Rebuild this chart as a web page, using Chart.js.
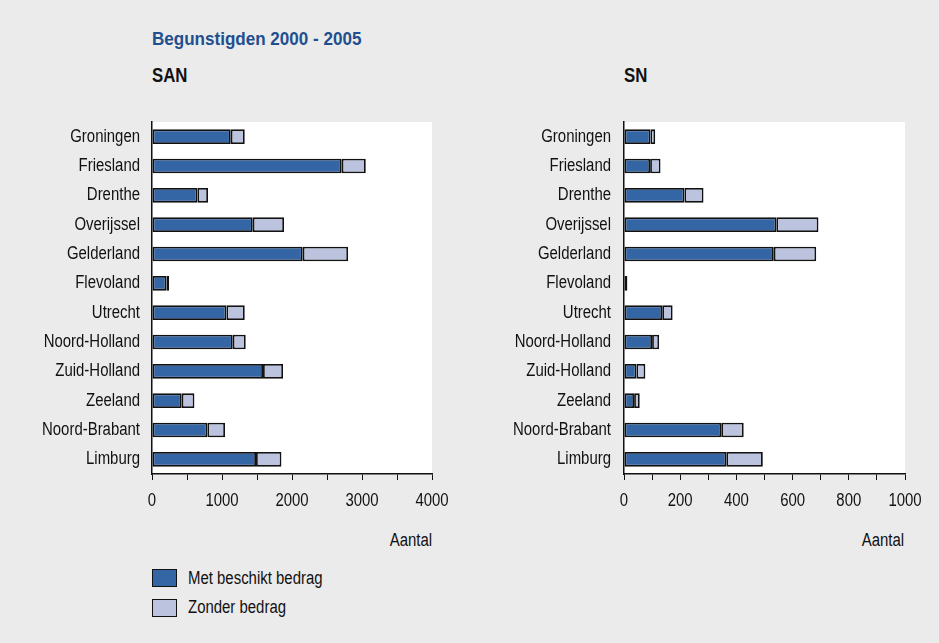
<!DOCTYPE html>
<html lang="nl">
<head>
  <meta charset="UTF-8" />
  <title>Begunstigden 2000 - 2005</title>
  <script src="https://cdn.jsdelivr.net/npm/chart.js"></script>
  <style>
    html, body {
      margin: 0;
      padding: 0;
      background: #ebebeb;
      font-family: "Liberation Sans", Arial, sans-serif;
    }
    #page {
      position: relative;
      width: 939px;
      height: 643px;
      overflow: hidden;
    }
    .txt {
      position: absolute;
      white-space: nowrap;
      line-height: 1;
      color: #111111;
      transform: scaleX(0.83);
      transform-origin: left top;
    }
    .title {
      color: #1f4f8f;
      font-weight: bold;
      font-size: 18px;
      transform: scaleX(0.947);
    }
    .panel-title {
      font-weight: bold;
      font-size: 21px;
      transform: scaleX(0.8);
    }
    .unit {
      font-size: 18px;
      transform-origin: right top;
    }
    .legend-box {
      position: absolute;
      width: 25px;
      height: 18px;
      border: 1.5px solid #111111;
      box-sizing: border-box;
    }
    .legend-label {
      font-size: 18px;
    }
    .chart-wrap {
      position: absolute;
      top: 110px;
      width: 470px;
      height: 420px;
    }
  </style>
</head>
<body>

<div id="page">
  <div class="txt title" style="left:152px; top:30px;">Begunstigden 2000 - 2005</div>
  <div class="txt panel-title" style="left:152px; top:64px;">SAN</div>
  <div class="txt panel-title" style="left:624px; top:64px;">SN</div>

  <div class="chart-wrap" style="left:0px;"><canvas id="sanChart" width="470" height="420"></canvas></div>
  <div class="chart-wrap" style="left:470px;"><canvas id="snChart" width="470" height="420"></canvas></div>

  <div class="txt unit" style="right:507px; top:531px;">Aantal</div>
  <div class="txt unit" style="right:35px; top:531px;">Aantal</div>

  <!-- legend -->
  <div class="legend-box" style="left:152px; top:569px; background:#3466a5;"></div>
  <div class="txt legend-label" style="left:188px; top:569px;">Met beschikt bedrag</div>
  <div class="legend-box" style="left:152px; top:599px; background:#bbc3df;"></div>
  <div class="txt legend-label" style="left:188px; top:598px;">Zonder bedrag</div>
</div>

<script>
  // provinces, top to bottom
  const provinces = ['Groningen', 'Friesland', 'Drenthe', 'Overijssel', 'Gelderland', 'Flevoland',
    'Utrecht', 'Noord-Holland', 'Zuid-Holland', 'Zeeland', 'Noord-Brabant', 'Limburg'];

  const seriesNames = ['Met beschikt bedrag', 'Zonder bedrag'];

  // SAN
  const sanMet = [1125, 2710, 648, 1439, 2153, 205, 1063, 1153, 1586, 424, 791, 1486];
  const sanZonder = [200, 344, 152, 447, 648, 38, 262, 186, 286, 182, 252, 363];

  // SN
  const snMet = [94, 93, 215, 542, 533, 12, 136, 100, 44, 36, 346, 364];
  const snZonder = [17, 37, 68, 150, 151, 0, 37, 25, 32, 20, 80, 130];

  const sanTicks = [0, 1000, 2000, 3000, 4000];
  const snTicks = [0, 200, 400, 600, 800, 1000];

  const blue = '#3466a5';
  const lightBlue = '#bbc3df';
  const edge = '#111111';
  const labelFont = { family: '"Liberation Sans", Arial, sans-serif', size: 18 };

  // the original uses a narrow face; squeeze canvas text horizontally
  function narrowText(ctx, k) {
    const fill = ctx.fillText;
    ctx.fillText = function (t, x, y, mw) {
      this.save();
      this.translate(x, y);
      this.scale(k, 1);
      if (mw === undefined) fill.call(this, t, 0, 0);
      else fill.call(this, t, 0, 0, mw / k);
      this.restore();
    };
    return ctx;
  }

  // white plot area
  const plotBg = {
    id: 'plotBg',
    beforeDraw(chart) {
      const a = chart.chartArea;
      const ctx = chart.ctx;
      ctx.save();
      ctx.fillStyle = '#ffffff';
      ctx.fillRect(a.left, a.top, a.right - a.left, a.bottom - a.top);
      ctx.restore();
    }
  };

  function makeChart(id, met, zonder, ticks, minorStep, yWidth, padRight, yPad) {
    const max = ticks[ticks.length - 1];
    const ctx = narrowText(document.getElementById(id).getContext('2d'), 0.83);
    return new Chart(ctx, {
      type: 'bar',
      data: {
        labels: provinces,
        datasets: [
          { label: seriesNames[0], data: met, backgroundColor: blue, borderColor: edge, borderWidth: 1.8, borderSkipped: false },
          { label: seriesNames[1], data: zonder, backgroundColor: lightBlue, borderColor: edge, borderWidth: 1.8, borderSkipped: false }
        ]
      },
      options: {
        indexAxis: 'y',
        responsive: false,
        animation: false,
        devicePixelRatio: 1,
        layout: { padding: { top: 12, right: padRight, bottom: 16, left: 0 } },
        datasets: { bar: { barPercentage: 1, categoryPercentage: 0.5 } },
        plugins: { legend: { display: false }, tooltip: { enabled: false } },
        scales: {
          x: {
            stacked: true,
            min: 0,
            max: max,
            afterFit: s => { s.height = 40; },
            afterBuildTicks: s => {
              const t = [];
              for (let v = 0; v <= max; v += minorStep) t.push({ value: v });
              s.ticks = t;
            },
            ticks: {
              color: '#111111',
              font: labelFont,
              padding: 10,
              maxRotation: 0,
              autoSkip: false,
              callback: v => (ticks.includes(v) ? String(v) : '')
            },
            grid: { drawOnChartArea: false, tickLength: 6, color: edge, lineWidth: 1 },
            border: { color: edge, width: 1.5 }
          },
          y: {
            stacked: true,
            afterFit: s => {
              s.width = yWidth;
              s.paddingTop = 0;
              s.paddingBottom = 0;
            },
            ticks: { color: '#111111', font: labelFont, padding: yPad },
            grid: { drawOnChartArea: false, drawTicks: false },
            border: { color: edge, width: 1.5 }
          }
        }
      },
      plugins: [plotBg]
    });
  }

  makeChart('sanChart', sanMet, sanZonder, sanTicks, 500, 152, 38, 12);
  makeChart('snChart', snMet, snZonder, snTicks, 100, 154, 35, 13);
</script>

</body>
</html>
